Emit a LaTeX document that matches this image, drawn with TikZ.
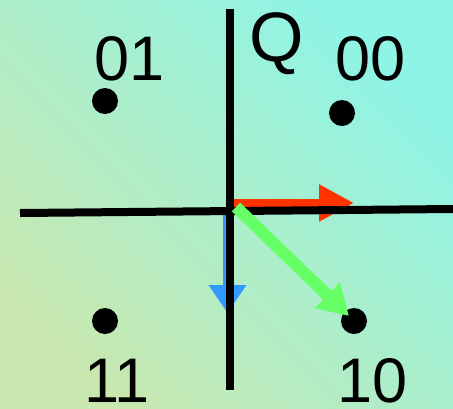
\documentclass[tikz,border=0pt]{standalone}
\usepackage{fontspec}
\setmainfont{Liberation Sans}
\usetikzlibrary{arrows.meta}
\definecolor{bgA}{HTML}{C8E8B0}
\definecolor{bgB}{HTML}{8EF4E6}
\definecolor{redv}{HTML}{FF3300}
\definecolor{bluev}{HTML}{3399FF}
\definecolor{greenv}{HTML}{66FF66}
\begin{document}
\begin{tikzpicture}[x=1pt,y=-1pt,
  dot/.style={circle,fill=black,inner sep=0pt,minimum size=26pt},
  lbl/.style={inner sep=0pt,anchor=base,font=\fontsize{63}{63}\selectfont},
  axis/.style={line width=8pt,black},
  vec/.style={line width=8.5pt}]
\shade[bottom color=bgA,top color=bgB,shading angle=-45] (0,0) rectangle (453,408);
\useasboundingbox (0,0) rectangle (453,408);
% points
\node[dot] (d01) at (105,101) {};
\node[dot] (d00) at (342,113) {};
\node[dot] (d11) at (105,321) {};
\node[dot] (d10) at (354,321) {};
% labels
\node[lbl] (l01) at (130,80) {01};
\node[lbl] (l00) at (371,80) {00};
\node[lbl] (l11) at (117,402) {11};
\node[lbl] (l10) at (373,402) {10};
\node[inner sep=0pt,font=\fontsize{70}{70}\selectfont] (q) at (277,44) {Q};
% coordinates
\coordinate (o) at (233,203);
\coordinate (rt) at (354,203);
\coordinate (bs) at (227.5,213);
\coordinate (bt) at (227.5,313);
\coordinate (gs) at (236,207);
\coordinate (gt) at (349,316);
\coordinate (vt) at (229.5,9);
\coordinate (vb) at (229.5,390);
\coordinate (hl) at (20,213);
\coordinate (hr) at (453,209);
% vectors under axes
\draw[vec,redv,-{Triangle[length=35pt,width=35pt]}] (o) -- (rt);
\draw[vec,bluev,-{Triangle[length=28pt,width=36pt]}] (bs) -- (bt);
% axes
\draw[axis] (vt) -- (vb);
\draw[axis] (hl) -- (hr);
% green vector
\draw[line width=12pt,greenv,-{Triangle[length=30pt,width=34pt]}] (gs) -- (gt);
\end{tikzpicture}
\end{document}
